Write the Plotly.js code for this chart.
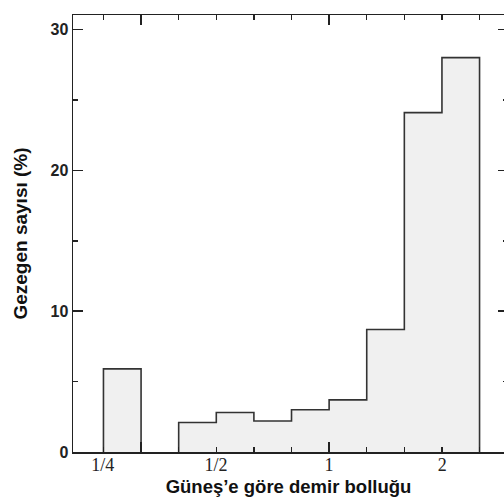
<!DOCTYPE html>
<html>
<head>
<meta charset="utf-8">
<script src="https://cdn.plot.ly/plotly-3.0.1.min.js"></script>
<style>
html,body{margin:0;padding:0;overflow:hidden;background:#fff;}
#chart{width:504px;height:502px;}
</style>
</head>
<body>
<div id="chart"></div>
<script>
// [Fe/H] bin centres (dex), bin width 0.1 dex
var binCenters = [-0.55, -0.45, -0.35, -0.25, -0.15, -0.05, 0.05, 0.15, 0.25, 0.35];
var planetPercent = [5.9, 0, 2.1, 2.8, 2.2, 3.0, 3.7, 8.7, 24.1, 28.0];
var binWidth = 0.1;
var tickRatios = [0.25, 0.5, 1, 2];
var tickLabels = ['1/4', '1/2', '1', '2'];
var yTickVals = [0, 10, 20, 30];

var tickDex = tickRatios.map(function(r){ return Math.log10(r); });
var xr = [-0.681, 0.465];
var yr = [0, 31.03];

// step histogram outline built from the bins, one segment per run of non-empty bins
var stepX = [], stepY = [];
var inRun = false;
binCenters.forEach(function(c, i){
  var v = planetPercent[i];
  var left = c - binWidth / 2, right = c + binWidth / 2;
  if (v > 0) {
    if (!inRun) { stepX.push(left); stepY.push(0); inRun = true; }
    stepX.push(left); stepY.push(v);
  } else if (inRun) {
    stepX.push(left); stepY.push(0);
    stepX.push(null); stepY.push(null);
    inRun = false;
  }
  if (i === binCenters.length - 1 && inRun) { stepX.push(right); stepY.push(0); }
});

var trace = {
  type: 'scatter', mode: 'lines',
  x: stepX, y: stepY, connectgaps: false,
  line: {shape: 'hv', color: '#333333', width: 1.6},
  fill: 'tozeroy', fillcolor: '#f0f0f0',
  hoverinfo: 'none'
};
var labelTrace = {
  type: 'scatter', mode: 'markers', x: [xr[0]], y: [0], xaxis: 'x2', yaxis: 'y2',
  marker: {opacity: 0}, hoverinfo: 'none', showlegend: false
};

var tickCol = '#222222';
var layout = {
  width: 504, height: 502,
  margin: {l: 73, r: 0, t: 15, b: 50},
  paper_bgcolor: '#ffffff', plot_bgcolor: '#ffffff',
  showlegend: false,
  font: {family: 'Liberation Sans, Arial, sans-serif', color: '#222222'},
  xaxis: {
    range: xr, type: 'linear', layer: 'above traces',
    showgrid: false, zeroline: false,
    showline: true, linecolor: tickCol, linewidth: 1.5, mirror: 'ticks',
    tick0: 0, dtick: 0.5, ticks: 'inside', ticklen: 10, tickwidth: 1.5, tickcolor: tickCol,
    minor: {tick0: 0, dtick: 0.1, ticks: 'inside', ticklen: 5, tickwidth: 1.5, tickcolor: tickCol, showgrid: false},
    showticklabels: false,
    title: {text: ''}
  },
  xaxis2: {
    overlaying: 'x', side: 'bottom', anchor: 'y', range: xr, type: 'linear',
    showgrid: false, zeroline: false, showline: false, ticks: '',
    tickmode: 'array', tickvals: tickDex, ticktext: tickLabels,
    tickfont: {family: 'Liberation Serif, DejaVu Serif, serif', size: 18, color: '#222222'},
    title: {text: 'Güneş’e göre demir bolluğu', standoff: 6,
      font: {family: 'Liberation Sans, Arial, sans-serif', size: 18.5, weight: 'bold', color: '#111111'}}
  },
  yaxis: {
    range: yr, layer: 'above traces',
    showgrid: false, zeroline: false,
    showline: true, linecolor: tickCol, linewidth: 1.5, mirror: false,
    tickmode: 'array', tickvals: yTickVals,
    ticks: 'inside', ticklen: 10, tickwidth: 1.5, tickcolor: tickCol,
    minor: {tick0: 0, dtick: 5, ticks: 'inside', ticklen: 5, tickwidth: 1.5, tickcolor: tickCol, showgrid: false},
    tickfont: {family: 'Liberation Sans, Arial, sans-serif', size: 16, weight: 'bold', color: '#222222'},
    title: {text: 'Gezegen sayısı (%)', standoff: 18,
      font: {family: 'Liberation Sans, Arial, sans-serif', size: 19, weight: 'bold', color: '#111111'}}
  },
  yaxis2: {
    overlaying: 'y', side: 'right', anchor: 'x', range: yr, layer: 'above traces',
    showgrid: false, zeroline: false, showline: false,
    tickmode: 'array', tickvals: yTickVals,
    ticks: 'inside', ticklen: 6, tickwidth: 1.5, tickcolor: tickCol,
    minor: {tick0: 0, dtick: 5, ticks: 'inside', ticklen: 1.5, tickwidth: 1.5, tickcolor: tickCol, showgrid: false},
    showticklabels: false
  }
};

Plotly.newPlot('chart', [trace, labelTrace], layout, {displayModeBar: false, staticPlot: true});
</script>
</body>
</html>
